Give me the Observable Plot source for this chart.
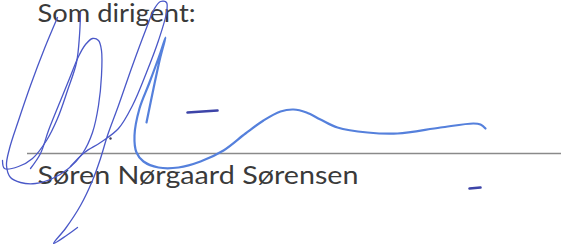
<!DOCTYPE html>
<html>
<head>
<meta charset="utf-8">
<script src="https://cdn.jsdelivr.net/npm/d3@7"></script>
<script src="https://cdn.jsdelivr.net/npm/@observablehq/plot@0.6"></script>
<style>
  html, body { margin: 0; padding: 0; background: #fff; }
  #chart svg { display: block; background: #fff; }
</style>
</head>
<body>
<div id="chart"></div>
<script>
// Texts
const labels = [
  {text: "Som dirigent:", x: 37, y: 13, len: 158},
  {text: "Søren Nørgaard Sørensen", x: 37, y: 175, len: 321}
];
// Signature baseline
const signatureLine = [{y: 153, x1: 27, x2: 561}];

// Signature strokes (pen traces, picture coordinates)
const strokeOuter = [[57,17],[44,48],[30,85],[18,120],[9,148],[6,165],[10,177],[20,182],[35,183],[52,178],[68,168],[82,153],[92,132],[98,105],[101,75],[101,50],[98,40],[92,38],[85,44],[78,56],[69,78],[58,105],[48,130],[40,153],[30,168]];
const strokeM = [[80,12],[79,35],[76,62],[67,90],[57,118],[46,140],[32,158],[18,166],[4,168],[2,160]];
const strokeLoop = [[77,227],[66,235],[53,243],[65,228],[80,205],[92,180],[100,158],[107,135],[118,105],[132,65],[145,30],[154,8],[160,1],[166,2],[166,12],[158,40],[146,72],[132,105],[118,128],[100,142],[84,152],[70,166]];
const strokeWave = [[146,122],[153,88],[160,56],[165,37],[160,52],[149,82],[139,108],[134,135],[136,152],[143,161],[158,167],[178,167],[200,161],[223,150],[245,133],[263,120],[280,111],[293,109],[306,112],[320,119],[337,127],[367,132],[397,133],[440,127],[473,123],[480,124],[485,128]];
const dash1 = [[187,112],[217,110]];
const dash2 = [[469,188],[480,187]];
const dots = [[110,138]];

const toRows = (id, pts) => pts.map(([x, y]) => ({id, x, y}));
const inkRows = [
  ...toRows("outer", strokeOuter),
  ...toRows("m", strokeM),
  ...toRows("loop", strokeLoop)
];
const waveRows = toRows("wave", strokeWave);
const dashRows = [...toRows("d1", dash1), ...toRows("d2", dash2)];
const dotRows = toRows("dot", dots);

const ink = "#4a58c8";
const plot = Plot.plot({
  width: 561,
  height: 247,
  margin: 0,
  x: {domain: [0, 561], axis: null},
  y: {domain: [0, 247], reverse: true, axis: null},
  marks: [
    Plot.ruleY(signatureLine, {y: "y", x1: "x1", x2: "x2", stroke: "#8a8a8a", strokeWidth: 1.6}),
    Plot.text(labels, {x: "x", y: "y", text: "text", textAnchor: "start", fontSize: 25, fontFamily: "Lato", fill: "#3a3a3a"}),
    Plot.line(inkRows, {x: "x", y: "y", z: "id", curve: "catmull-rom", stroke: ink, strokeWidth: 1.3}),
    Plot.line(waveRows, {x: "x", y: "y", z: "id", curve: "catmull-rom", stroke: "#5580dc", strokeWidth: 2.2}),
    Plot.line(dashRows, {x: "x", y: "y", z: "id", stroke: "#3d44a8", strokeWidth: 2.6, strokeLinecap: "round"}),
    Plot.dot(dotRows, {x: "x", y: "y", r: 1.2, fill: "#3d3d5a"})
  ]
});
document.getElementById("chart").appendChild(plot);
// fit text widths to the reference
d3.select(plot).selectAll("text").each(function() {
  const t = d3.select(this).text();
  const lab = labels.find(l => l.text === t);
  if (lab) d3.select(this).attr("textLength", lab.len).attr("lengthAdjust", "spacingAndGlyphs");
});
</script>
</body>
</html>
